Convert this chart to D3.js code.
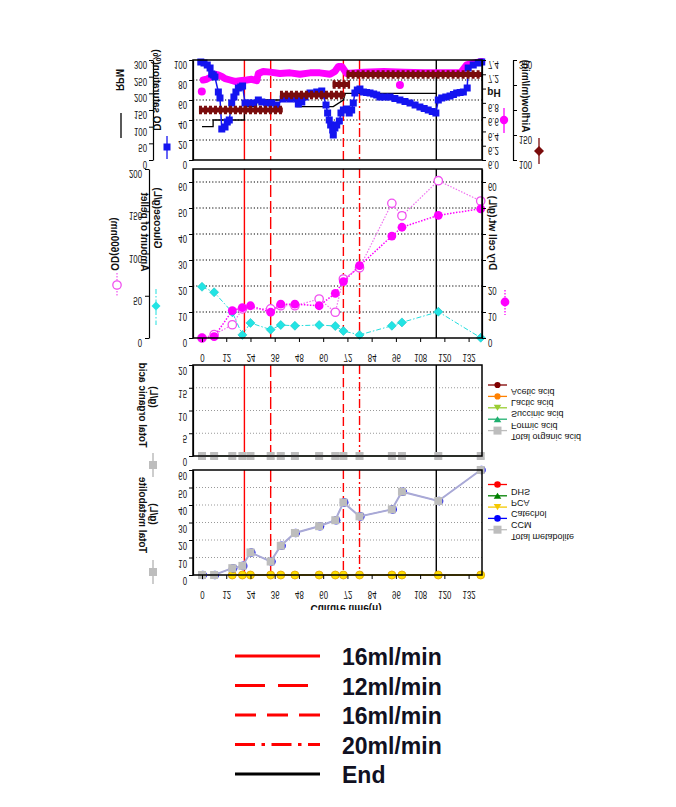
<!DOCTYPE html>
<html><head><meta charset="utf-8">
<script src="https://cdn.jsdelivr.net/npm/d3@7"></script>
<style>body{margin:0;background:#fff}svg text{font-family:"Liberation Sans",Arial,sans-serif}</style>
</head><body><svg id="c" width="676" height="807"></svg>
<script>
// ---------------- DATA ----------------
const sampleTime = [0,6,15,20,24,34,39,46,58,66,70,78,94,99,117,138];
const xTicks = [0,12,24,36,48,60,72,84,96,108,120,132];
// panel 1
const doTime = [-0.6,1.0,2.6,4.0,4.8,5.6,6.4,8.1,8.9,9.8,11.4,12.5,13.5,14.7,15.8,16.8,18.0,19.2,20.1,21.3,22.9,25.4,27.9,29.6,32.0,34.5,37.0,40.2,43.6,46.9,47.7,49.4,51.0,53.5,56.8,59.3,60.0,61.4,62.2,63.0,63.7,64.7,65.0,65.8,66.7,68.0,68.8,70.0,71.6,72.9,74.1,74.9,75.7,76.9,78.2,79.9,81.5,83.2,85.0,86.5,88.1,90.5,93.1,95.5,98.0,100.5,103.0,105.5,107.9,110.0,112.0,114.0,115.8,117.0,118.7,120.7,122.8,124.5,126.1,127.8,129.4,131.3,131.8,134.3,136.8,138.5];
const doVal = [98,97,95,92,86,85,83,68,62,31,33,38,40,57,63,68,72,73,74,57,57,57,60,58,57,57,55,61,61,61,56,58,63,67,68,69,65,55,47,40,35,30,25,32,35,39,47,50,51,47,50,57,67,70,71,68,67.5,67,66,65,63,63,63,61.5,60,58.5,57,55,53,51.5,50,48.5,47,60,62,63,64,65.5,67,67.5,68,72,92,95,97,98];
const phTime = [0.6,2.3,4.8,6.4,8.1,9.8,11.4,13.9,16.3,18.8,22.1,24.6,27.1,27.9,30.3,33.7,38.6,43.6,48.5,53.5,58.4,63.4,65.8,67.5,69.2,71.6,80,90,100,110,120,128,131,135,138.5];
const phVal = [7.12,7.13,7.17,7.20,7.19,7.17,7.14,7.12,7.10,7.11,7.12,7.13,7.11,7.21,7.24,7.23,7.21,7.22,7.20,7.22,7.22,7.20,7.24,7.31,7.31,7.21,7.23,7.24,7.23,7.22,7.22,7.22,7.33,7.36,7.38];
const phOutTime = [-0.1, 98];
const phOutVal = [6.96, 7.05];
const airStart = [-1.5, 38.6, 64.7, 71.6];
const airEnd = [40, 70.8, 73.3, 139];
const airVal = [200, 230, 251, 271];
const rpmTime = [0,5.5,5.5,21,21,27,27,47,47,65,70,71,116];
const rpmVal = [100,100,120,120,160,160,180,180,160,160,180,200,200];
// panel 2
const glucose = [19.7,17.6,9.9,1.2,5.8,3.2,5.0,4.7,5.0,4.6,2.7,1.2,4.7,6.0,10.1,0.1];
const dcw = [0,0.5,10.5,11.7,12.4,9.9,13.0,13.0,12.4,17.2,21.7,27.8,39.2,42.6,47.2,49.7];
const odTime = [0,6,15,20,34,39,46,58,66,70,78,94,99,117,138];
const odVal = [0,1.3,5.1,11.2,11.2,12.4,12.4,15.0,9.9,22.7,27.0,51.8,47.0,60.5,52.7];
// panel 3 (organic acids, g/L)
const aceticAcid = [0,0,0,0,0,0,0,0,0,0,0,0,0,0,0,0];
const lacticAcid = [0,0,0,0,0,0,0,0,0,0,0,0,0,0,0,0];
const succinicAcid = [0,0,0,0,0,0,0,0,0,0,0,0,0,0,0,0];
const formicAcid = [0,0,0,0,0,0,0,0,0,0,0,0,0,0,0,0];
const totalOrganic = [0,0,0,0,0,0,0,0,0,0,0,0,0,0,0,0];
const organicNames = ['Acetic acid','Lactic acid','Succinic acid','Formic acid','Total organic acid'];
// panel 4 (metabolites, g/L)
const metTime = [15,20,24,34,39,46,58,66,70,78,94,99,117,138];
const dhs = [0,0,0,0,0,0,0,0,0,0,0,0,0,0];
const pca = [0,0,0,0,0,0,0,0,0,0,0,0,0,0];
const catechol = [0,0,0,0,0,0,0,0,0,0,0,0,0,0];
const ccm = [0,0,3.9,5.2,12.9,7.7,16.7,24.0,27.9,31.3,41.5,33.5,37.5,47.6,42.3,60];
const totalMet = [0,0,3.9,5.2,12.9,7.7,16.7,24.0,27.9,31.3,41.5,33.5,37.5,47.6,42.3,60];
const metNames = ['DHS','PCA','Catechol','CCM','Total metabolite'];
// events
const eventTime = [21,34,70,78,116];
const eventLabel = ['16ml/min','12ml/min','16ml/min','20ml/min','End'];

// ---------------- LAYOUT ----------------
const svg = d3.select('#c');
const FONT = '"Liberation Sans", Arial, sans-serif';
const XL = 193, XR = 482;
const P1 = {t:60,b:160}, P2 = {t:169,b:338}, P3 = {t:365,b:456}, P4 = {t:470,b:575};
const xS = d3.scaleLinear().domain([0,132]).range([202,468.6]);
const eventColor = ['#ff0000','#ff0000','#ff0000','#ff0000','#000000'];
const eventDash = [null,'12,4','9,4','9,3,2,3',null];
const legendDash = [null,'30,13','21,11','20,6.5,3.5,6.5',null];

function diamond(w,h){return `M0,${-h}L${w},0L0,${h}L${-w},0Z`;}
function tri(s,down){const h=s*1.6;return down?`M${-s},${-h/2}L${s},${-h/2}L0,${h/2}Z`:`M${-s},${h/2}L${s},${h/2}L0,${-h/2}Z`;}
function ftext(p,x,y,str,o={}){
  const size=o.size||10, weight=o.weight||'bold', anchor=o.anchor||'middle', sx=o.sx||1;
  return p.append('text')
    .attr('transform',`translate(${x},${y})`+(o.rot?' rotate(-90)':'')+` scale(${sx},-1)`)
    .attr('text-anchor',anchor).attr('dominant-baseline','central')
    .attr('font-size',size).attr('font-weight',weight).attr('fill',o.fill||'#111')
    .text(str);
}
function styleAxis(g,dy){
  g.attr('font-family',FONT).attr('font-size',10);
  g.selectAll('.domain').attr('stroke','#000').attr('stroke-width',1.2);
  g.selectAll('.tick line').attr('stroke','#000');
  g.selectAll('.tick text').each(function(){
    const t=d3.select(this);
    const x=+t.attr('x')||0, y=+t.attr('y')||0;
    t.attr('x',0).attr('y',0).attr('dy',null).attr('dominant-baseline','central').attr('fill','#111')
     .attr('transform',`translate(${x},${y+dy}) scale(0.78,-1)`);
  });
}
function grid(g,vals,y,color,dash){
  g.append('g').selectAll('line').data(vals).join('line')
   .attr('x1',XL).attr('x2',XR).attr('y1',d=>y(d)).attr('y2',d=>y(d))
   .attr('stroke',color).attr('stroke-width',1).attr('stroke-dasharray',dash);
}
function events(g,P){
  g.append('g').selectAll('line').data(eventTime).join('line')
   .attr('x1',d=>xS(d)).attr('x2',d=>xS(d)).attr('y1',P.t).attr('y2',P.b)
   .attr('stroke',(d,i)=>eventColor[i]).attr('stroke-width',1.4)
   .attr('stroke-dasharray',(d,i)=>eventDash[i]);
}
function frame(g,P){
  g.append('rect').attr('x',XL).attr('y',P.t).attr('width',XR-XL).attr('height',P.b-P.t)
   .attr('fill','none').attr('stroke','#000').attr('stroke-width',1.5);
}
function xAxis(g,P){
  const a=g.append('g').attr('transform',`translate(0,${P.b})`)
   .call(d3.axisBottom(xS).tickValues(xTicks).tickSize(4).tickPadding(3).tickSizeOuter(0));
  a.select('.domain').remove();
  styleAxis(a,12);
}

// ---------------- PANEL 1 ----------------
const g1 = svg.append('g');
const yDO = d3.scaleLinear().domain([0,100]).range([P1.b,P1.t]);
const yRPM = d3.scaleLinear().domain([0,300]).range([P1.b,P1.t]);
const ypH = d3.scaleLinear().domain([6,7.4]).range([P1.b,P1.t]);
const yAir = d3.scaleLinear().domain([100,300]).range([P1.b,P1.t]);
grid(g1,[20,40,60,80],yDO,'#000','1.2,2');
events(g1,P1);
// RPM
g1.append('path').datum(rpmTime.map((t,i)=>[t,rpmVal[i]]))
  .attr('d',d3.line().x(d=>xS(d[0])).y(d=>yRPM(d[1])))
  .attr('fill','none').attr('stroke','#000').attr('stroke-width',1.3);
// pH band
g1.append('path').datum(phTime.map((t,i)=>[t,phVal[i]]))
  .attr('d',d3.line().x(d=>xS(d[0])).y(d=>ypH(d[1])))
  .attr('fill','none').attr('stroke','#ff00ff').attr('stroke-width',7).attr('stroke-linejoin','round').attr('stroke-linecap','round');
g1.append('g').selectAll('circle').data(phOutTime).join('circle')
  .attr('cx',d=>xS(d)).attr('cy',(d,i)=>ypH(phOutVal[i])).attr('r',4).attr('fill','#ff00ff');
// DO
g1.append('path').datum(doTime.map((t,i)=>[t,doVal[i]]))
  .attr('d',d3.line().x(d=>xS(d[0])).y(d=>yDO(d[1])))
  .attr('fill','none').attr('stroke','#1414f0').attr('stroke-width',1.5);
g1.append('g').selectAll('rect').data(doTime).join('rect')
  .attr('x',d=>xS(d)-3.5).attr('y',(d,i)=>yDO(doVal[i])-3.5).attr('width',7).attr('height',7).attr('fill','#1414f0');
// Airflow band (chain of diamonds look)
const airG = g1.append('g');
airG.selectAll('line.core').data(airVal).join('line').attr('class','core')
  .attr('x1',(d,i)=>xS(airStart[i])).attr('x2',(d,i)=>xS(airEnd[i]))
  .attr('y1',d=>yAir(d)).attr('y2',d=>yAir(d))
  .attr('stroke','#7a0c0c').attr('stroke-width',5);
airG.selectAll('line.edge').data(airVal).join('line').attr('class','edge')
  .attr('x1',(d,i)=>xS(airStart[i])).attr('x2',(d,i)=>xS(airEnd[i]))
  .attr('y1',d=>yAir(d)).attr('y2',d=>yAir(d))
  .attr('stroke','#7a0c0c').attr('stroke-width',8.5).attr('stroke-dasharray','3,2');
frame(g1,P1);
// axes
styleAxis(g1.append('g').attr('transform',`translate(${XL},0)`).call(d3.axisLeft(yDO).tickValues([0,20,40,60,80,100]).tickSize(4).tickPadding(2).tickSizeOuter(0)),4);
styleAxis(g1.append('g').attr('transform',`translate(153,0)`).call(d3.axisLeft(yRPM).tickValues([0,50,100,150,200,250,300]).tickSize(4).tickPadding(2).tickSizeOuter(0)),4);
styleAxis(g1.append('g').attr('transform',`translate(${XR},0)`).call(d3.axisRight(ypH).tickValues([6.0,6.2,6.4,6.6,6.8,7.0,7.2,7.4]).tickFormat(d=>d===7.0?'':d3.format('.1f')(d)).tickSize(4).tickPadding(2).tickSizeOuter(0)),4);
styleAxis(g1.append('g').attr('transform',`translate(513,0)`).call(d3.axisRight(yAir).tickValues([100,150,200,250,300]).tickFormat(d=>(d===200||d===250)?'':d).tickSize(4).tickPadding(2).tickSizeOuter(0)),4);
// titles + legend symbols
ftext(g1,119,80,'RPM',{rot:true});
g1.append('line').attr('x1',121).attr('x2',121).attr('y1',113).attr('y2',138).attr('stroke','#000').attr('stroke-width',1.3);
ftext(g1,156,90,'DO saturation(%)',{rot:true});
g1.append('line').attr('x1',167).attr('x2',167).attr('y1',136).attr('y2',159).attr('stroke','#1414f0').attr('stroke-width',1.3);
g1.append('rect').attr('x',163.5).attr('y',143.5).attr('width',7).attr('height',7).attr('fill','#1414f0');
ftext(g1,494,92,'pH',{size:10});
g1.append('line').attr('x1',504).attr('x2',504).attr('y1',108).attr('y2',133).attr('stroke','#ff00ff').attr('stroke-width',1.3);
g1.append('circle').attr('cx',504).attr('cy',120).attr('r',4.2).attr('fill','#ff00ff');
ftext(g1,525,96,'Airflow(ml/min)',{rot:true});
g1.append('line').attr('x1',539).attr('x2',539).attr('y1',138).attr('y2',164).attr('stroke','#7a0c0c').attr('stroke-width',1.3);
g1.append('path').attr('transform','translate(539,151)').attr('d',diamond(5,5)).attr('fill','#7a0c0c');

// ---------------- PANEL 2 ----------------
const g2 = svg.append('g');
const y2 = d3.scaleLinear().domain([0,65]).range([P2.b,P2.t]);
const y2outer = d3.scaleLinear().domain([0,200]).range([P2.b,P2.t]);
grid(g2,[10,20,30,40,50,60],y2,'#000','1.2,2');
events(g2,P2);
g2.append('path').datum(glucose).attr('d',d3.line().x((d,i)=>xS(sampleTime[i])).y(d=>y2(d)))
  .attr('fill','none').attr('stroke','#22dede').attr('stroke-width',1).attr('stroke-dasharray','5,2,1.5,2');
g2.append('g').selectAll('path').data(glucose).join('path')
  .attr('transform',(d,i)=>`translate(${xS(sampleTime[i])},${y2(d)})`).attr('d',diamond(4.5,4.5)).attr('fill','#22e4e4').attr('stroke','#12c4c4').attr('stroke-width',0.6);
g2.append('path').datum(odVal).attr('d',d3.line().x((d,i)=>xS(odTime[i])).y(d=>y2(d)))
  .attr('fill','none').attr('stroke','#f070f0').attr('stroke-width',1.2).attr('stroke-dasharray','1.5,1.5');
g2.append('g').selectAll('circle').data(odVal).join('circle')
  .attr('cx',(d,i)=>xS(odTime[i])).attr('cy',d=>y2(d)).attr('r',4.2).attr('fill','#fff').attr('stroke','#f050f0').attr('stroke-width',1.3);
g2.append('path').datum(dcw).attr('d',d3.line().x((d,i)=>xS(sampleTime[i])).y(d=>y2(d)))
  .attr('fill','none').attr('stroke','#ff00ff').attr('stroke-width',1.5).attr('stroke-dasharray','1.5,1.5');
g2.append('g').selectAll('circle').data(dcw).join('circle')
  .attr('cx',(d,i)=>xS(sampleTime[i])).attr('cy',d=>y2(d)).attr('r',4.4).attr('fill','#ff00ff');
frame(g2,P2);
styleAxis(g2.append('g').attr('transform',`translate(${XL},0)`).call(d3.axisLeft(y2).tickValues([0,10,20,30,40,50,60]).tickSize(4).tickPadding(2).tickSizeOuter(0)),4);
styleAxis(g2.append('g').attr('transform',`translate(149,0)`).call(d3.axisLeft(y2outer).tickValues([0,50,100,150,200]).tickSize(4).tickPadding(3).tickSizeOuter(0)),4);
styleAxis(g2.append('g').attr('transform',`translate(${XR},0)`).call(d3.axisRight(y2).tickValues([0,10,20,30,40,50,60]).tickFormat(d=>(d>=30&&d<=50)?'':d).tickSize(4).tickPadding(2).tickSizeOuter(0)),4);
xAxis(g2,P2);
ftext(g2,114,244,'OD(600nm)',{rot:true});
g2.append('line').attr('x1',117).attr('x2',117).attr('y1',273).attr('y2',297).attr('stroke','#f050f0').attr('stroke-width',1.2).attr('stroke-dasharray','1.5,1.5');
g2.append('circle').attr('cx',117).attr('cy',285).attr('r',4.2).attr('fill','#fff').attr('stroke','#f050f0').attr('stroke-width',1.3);
ftext(g2,144,232,'Amount of pellet',{rot:true});
ftext(g2,157,218,'Glucose(g/L)',{rot:true});
g2.append('line').attr('x1',156).attr('x2',156).attr('y1',289).attr('y2',325).attr('stroke','#22dede').attr('stroke-width',1).attr('stroke-dasharray','5,2,1.5,2');
g2.append('path').attr('transform','translate(156,306)').attr('d',diamond(4.5,4.5)).attr('fill','#22e4e4');
ftext(g2,492,233,'Dry cell wt.(g/L)',{rot:true});
g2.append('line').attr('x1',505).attr('x2',505).attr('y1',290).attr('y2',315).attr('stroke','#ff00ff').attr('stroke-width',1.3).attr('stroke-dasharray','1.5,1.5');
g2.append('circle').attr('cx',505).attr('cy',302).attr('r',4.4).attr('fill','#ff00ff');

// ---------------- PANEL 3 ----------------
const g3 = svg.append('g');
const y3 = d3.scaleLinear().domain([0,20]).range([P3.b,P3.t]);
grid(g3,[5,10,15],y3,'#999','1,2');
events(g3,P3);
const orgSeries = [aceticAcid,lacticAcid,succinicAcid,formicAcid,totalOrganic];
const orgColor = ['#800000','#ff8000','#9acd32','#20b070','#bdbdbd'];
const orgShape = [s=>d3.symbol(d3.symbolCircle,30)(), s=>d3.symbol(d3.symbolCircle,30)(), s=>tri(3.8,true), s=>tri(3.8,false), s=>'M-4,-4h8v8h-8Z'];
orgSeries.forEach((ser,k)=>{
  g3.append('path').datum(ser).attr('d',d3.line().x((d,i)=>xS(sampleTime[i])).y(d=>y3(d)))
    .attr('fill','none').attr('stroke',orgColor[k]).attr('stroke-width',k===4?1.5:1);
  g3.append('g').selectAll('path').data(ser).join('path')
    .attr('transform',(d,i)=>`translate(${xS(sampleTime[i])},${y3(d)})`).attr('d',orgShape[k]()).attr('fill',orgColor[k]);
});
frame(g3,P3);
styleAxis(g3.append('g').attr('transform',`translate(${XL},0)`).call(d3.axisLeft(y3).tickValues([0,5,10,15,20]).tickSize(4).tickPadding(2).tickSizeOuter(0)),5);
ftext(g3,142,405,'Total organic acid',{rot:true});
ftext(g3,153,397,'(g/L)',{rot:true});
g3.append('line').attr('x1',153).attr('x2',153).attr('y1',453).attr('y2',477).attr('stroke','#bdbdbd').attr('stroke-width',1.5);
g3.append('path').attr('transform','translate(153,465)').attr('d','M-4,-4h8v8h-8Z').attr('fill','#bdbdbd');
const lg3 = g3.append('g').selectAll('g').data(organicNames).join('g').attr('transform',(d,i)=>`translate(0,${385+i*11.4})`);
lg3.append('line').attr('x1',488).attr('x2',507).attr('stroke',(d,i)=>orgColor[i]).attr('stroke-width',1.3);
lg3.append('path').attr('transform','translate(497.5,0)').attr('d',(d,i)=>orgShape[i]()).attr('fill',(d,i)=>orgColor[i]);
lg3.each(function(d){ftext(d3.select(this),511,6.5,d,{size:9,weight:'normal',anchor:'start'});});

// ---------------- PANEL 4 ----------------
const g4 = svg.append('g');
const y4 = d3.scaleLinear().domain([0,60]).range([P4.b,P4.t]);
grid(g4,[10,20,30,40,50],y4,'#999','1,2');
events(g4,P4);
const metColor = ['#ff0000','#008000','#f5c800','#0000ff','#bdbdbd'];
const metShape = [()=>d3.symbol(d3.symbolCircle,34)(), ()=>tri(3.8,false), ()=>tri(3.8,true), ()=>d3.symbol(d3.symbolCircle,34)(), ()=>'M-4,-4h8v8h-8Z'];
[dhs,pca].forEach((ser,k)=>{
  g4.append('path').datum(ser).attr('d',d3.line().x((d,i)=>xS(metTime[i])).y(d=>y4(d))).attr('fill','none').attr('stroke',metColor[k]).attr('stroke-width',1);
  g4.append('g').selectAll('circle').data(ser).join('circle').attr('cx',(d,i)=>xS(metTime[i])).attr('cy',d=>y4(d)).attr('r',3).attr('fill',metColor[k]);
});
g4.append('path').datum(catechol).attr('d',d3.line().x((d,i)=>xS(metTime[i])).y(d=>y4(d))).attr('fill','none').attr('stroke','#f0c000').attr('stroke-width',1.3);
g4.append('g').selectAll('circle').data(catechol).join('circle').attr('cx',(d,i)=>xS(metTime[i])).attr('cy',d=>y4(d)).attr('r',4).attr('fill','#ffe000').attr('stroke','#e0a000').attr('stroke-width',0.8);
g4.append('path').datum(ccm).attr('d',d3.line().x((d,i)=>xS(sampleTime[i])).y(d=>y4(d))).attr('fill','none').attr('stroke','#8888dd').attr('stroke-width',1);
g4.append('g').selectAll('circle').data(ccm).join('circle').attr('cx',(d,i)=>xS(sampleTime[i])+0.8).attr('cy',d=>y4(d)).attr('r',4.3).attr('fill','#2222ee');
g4.append('path').datum(totalMet).attr('d',d3.line().x((d,i)=>xS(sampleTime[i])).y(d=>y4(d))).attr('fill','none').attr('stroke','#a9a9d6').attr('stroke-width',2);
g4.append('g').selectAll('rect').data(totalMet).join('rect').attr('x',(d,i)=>xS(sampleTime[i])-4).attr('y',d=>y4(d)-4).attr('width',8).attr('height',8).attr('fill','#bdbdbd');
frame(g4,P4);
styleAxis(g4.append('g').attr('transform',`translate(${XL},0)`).call(d3.axisLeft(y4).tickValues([0,10,20,30,40,50,60]).tickSize(4).tickPadding(2).tickSizeOuter(0)),5);
xAxis(g4,P4);
ftext(g4,142,515,'Total metabolite',{rot:true});
ftext(g4,153,514,'(g/L)',{rot:true});
g4.append('line').attr('x1',153).attr('x2',153).attr('y1',560).attr('y2',584).attr('stroke','#bdbdbd').attr('stroke-width',1.5);
g4.append('path').attr('transform','translate(153,572)').attr('d','M-4,-4h8v8h-8Z').attr('fill','#bdbdbd');
const lg4 = g4.append('g').selectAll('g').data(metNames).join('g').attr('transform',(d,i)=>`translate(0,${484.5+i*11.3})`);
lg4.append('line').attr('x1',488).attr('x2',507).attr('stroke',(d,i)=>metColor[i]).attr('stroke-width',1.3);
lg4.append('path').attr('transform','translate(497.5,0)').attr('d',(d,i)=>metShape[i]()).attr('fill',(d,i)=>metColor[i]);
lg4.each(function(d){ftext(d3.select(this),511,7,d,{size:9,weight:'normal',anchor:'start'});});
// x title (clipped at bottom like reference)
svg.append('clipPath').attr('id','xc').append('rect').attr('x',250).attr('y',590).attr('width',200).attr('height',20);
ftext(svg.append('g').attr('clip-path','url(#xc)'),346,608,'Culture time(h)',{size:10});

// ---------------- BOTTOM LEGEND ----------------
const lgY = [656,685.5,715,744.5,774];
const lg = svg.append('g').selectAll('g').data(eventLabel).join('g').attr('transform',(d,i)=>`translate(0,${lgY[i]})`);
lg.append('line').attr('x1',235).attr('x2',320).attr('stroke',(d,i)=>eventColor[i]).attr('stroke-width',3)
  .attr('stroke-dasharray',(d,i)=>legendDash[i]);
lg.append('text').attr('x',342).attr('y',9).attr('font-size',23).attr('font-weight','bold').attr('fill','#111122').text(d=>d);
</script></body></html>
